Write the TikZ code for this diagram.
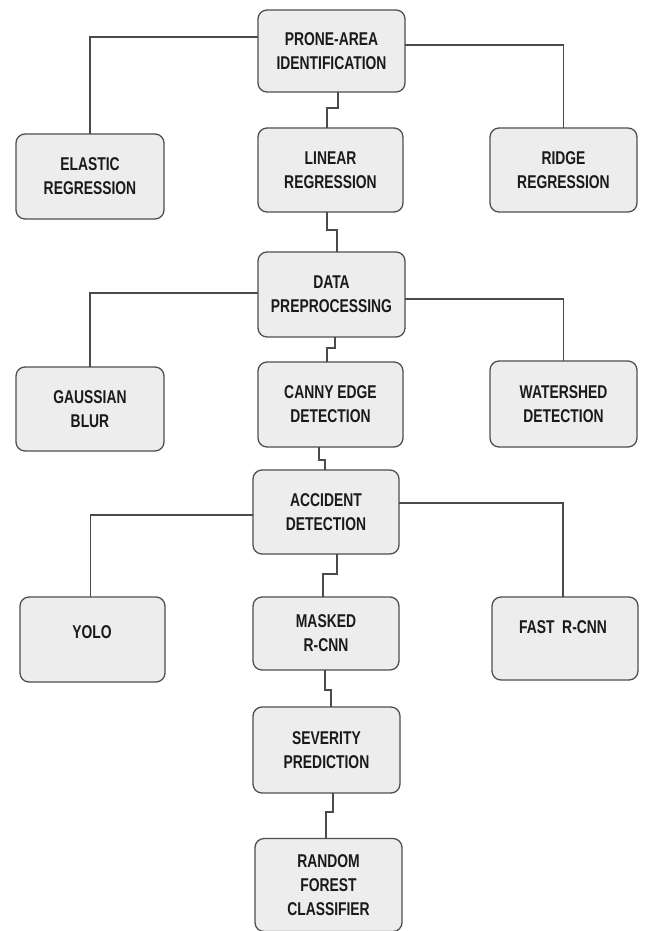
\documentclass[tikz,border=0pt]{standalone}
\usepackage{fontspec}
\setmainfont{Liberation Sans}[FakeStretch=0.75]
\begin{document}
\begin{tikzpicture}[x=1pt,y=-1pt,
  box/.style={draw=boxline, fill=boxfill, line width=1.3pt, rounded corners=9pt,
    inner sep=0pt, outer sep=0pt, align=center, text=textc,
    font=\fontsize{18.5}{24}\selectfont\bfseries},
  link/.style={draw=linec, line width=1.1pt}]
\definecolor{boxfill}{HTML}{EDEDED}
\definecolor{boxline}{HTML}{4F4F4F}
\definecolor{textc}{HTML}{1A1A1A}
\definecolor{linec}{HTML}{4A4A4A}
\useasboundingbox (0,0) rectangle (645,931);
\fill[white] (0,0) rectangle (645,931);

\node[box, minimum width=147pt, minimum height=82pt] (prone) at (331.5,51) {PRONE-AREA\\IDENTIFICATION};
\node[box, minimum width=148pt, minimum height=85pt] (elastic) at (90,176.5) {ELASTIC\\REGRESSION};
\node[box, minimum width=145pt, minimum height=84pt] (linear) at (330.5,170) {LINEAR\\REGRESSION};
\node[box, minimum width=147pt, minimum height=84pt] (ridge) at (563.5,170) {RIDGE\\REGRESSION};

\node[box, minimum width=147pt, minimum height=85pt] (data) at (331.5,294.5) {DATA\\PREPROCESSING};
\node[box, minimum width=148pt, minimum height=84pt] (gauss) at (90,409) {GAUSSIAN\\BLUR};
\node[box, minimum width=145pt, minimum height=85pt] (canny) at (330.5,404.5) {CANNY EDGE\\DETECTION};
\node[box, minimum width=147pt, minimum height=86pt] (water) at (563.5,404) {WATERSHED\\DETECTION};

\node[box, minimum width=146pt, minimum height=84pt] (acc) at (326,512) {ACCIDENT\\DETECTION};
\node[box, minimum width=145pt, minimum height=85pt] (yolo) at (92.5,639.5) {};
\node[box, draw=none, fill=none, anchor=center] (yolot) at (92,632) {YOLO};
\node[box, minimum width=146pt, minimum height=73pt] (masked) at (326,633.5) {MASKED\\R-CNN};
\node[box, minimum width=146pt, minimum height=83pt] (fast) at (565,638.5) {};
\node[box, draw=none, fill=none, anchor=center] (fastt) at (563,627) {FAST\ \ R-CNN};

\node[box, minimum width=147pt, minimum height=86pt] (sev) at (326.5,750) {SEVERITY\\PREDICTION};
\node[box, minimum width=147pt, minimum height=93pt] (rand) at (328.5,885) {RANDOM\\FOREST\\CLASSIFIER};

% side branches
\draw[link] ([yshift=14pt]prone.west) -| (elastic.north);
\draw[link] ([yshift=6pt]prone.east) -| (ridge.north);
\draw[link] ([yshift=1.5pt]data.west) -| (gauss.north);
\draw[link] ([yshift=-4.5pt]data.east) -| (water.north);
\draw[link] ([yshift=-3pt]acc.west) -| ([xshift=-2pt]yolo.north);
\draw[link] ([yshift=9pt]acc.east) -| ([xshift=-2pt]fast.north);

% main chain with jogs
\draw[link] ([xshift=6.5pt]prone.south) -- ++(0,16) -| ([xshift=-3.5pt]linear.north);
\draw[link] ([xshift=-3.5pt]linear.south) -- ++(0,18) -| ([xshift=5.5pt]data.north);
\draw[link] ([xshift=3.5pt]data.south) -- ++(0,11) -| ([xshift=-3.5pt]canny.north);
\draw[link] ([xshift=-11.5pt]canny.south) -- ++(0,13) -| ([xshift=-1pt]acc.north);
\draw[link] ([xshift=11pt]acc.south) -- ++(0,20) -| ([xshift=-3pt]masked.north);
\draw[link] ([xshift=-1pt]masked.south) -- ++(0,20) -| ([xshift=4.5pt]sev.north);
\draw[link] ([xshift=6.5pt]sev.south) -- ++(0,19) -| ([xshift=-2.5pt]rand.north);
\end{tikzpicture}
\end{document}
